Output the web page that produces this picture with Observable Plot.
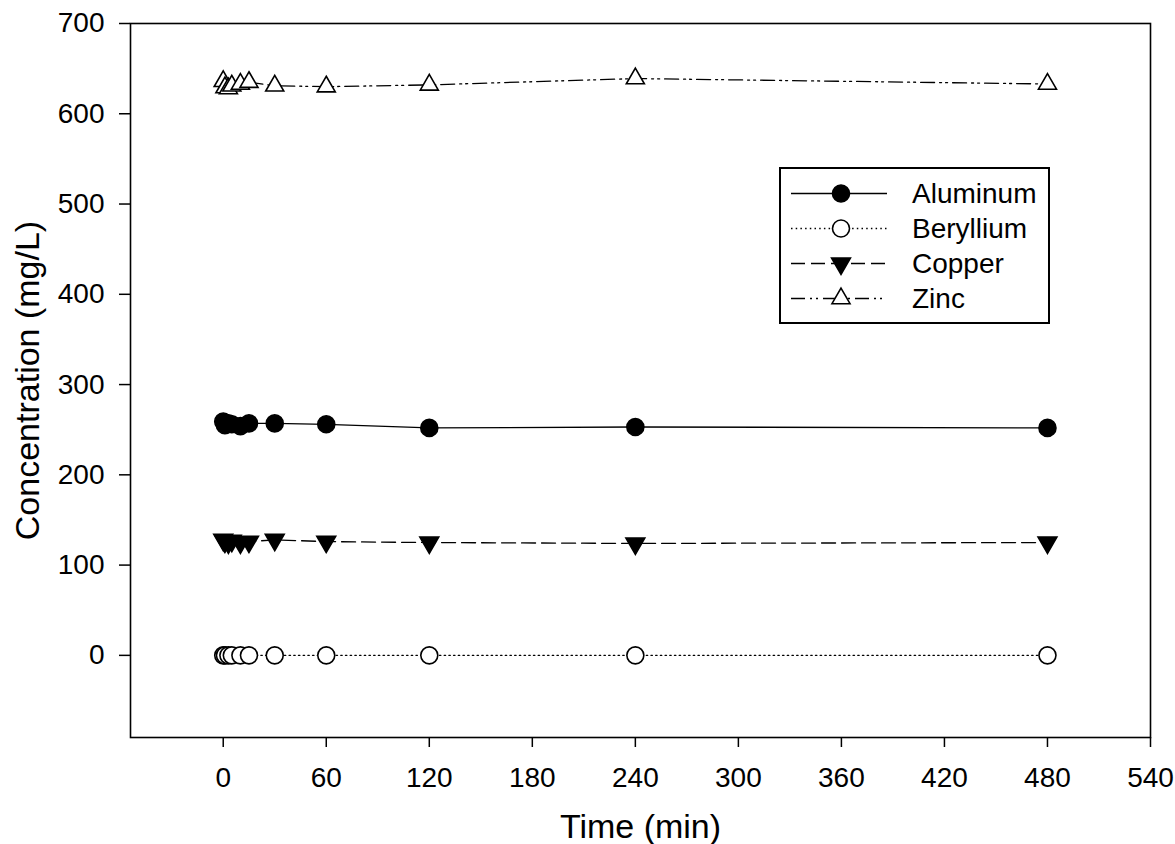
<!DOCTYPE html>
<html>
<head>
<meta charset="utf-8">
<script src="https://cdn.jsdelivr.net/npm/d3@7"></script>
<script src="https://cdn.jsdelivr.net/npm/@observablehq/plot@0.6"></script>
<style>
  html, body { margin: 0; padding: 0; background: #fff; }
  #wrap { position: relative; width: 1175px; height: 844px; font-family: "Liberation Sans", Arial, sans-serif; }
  #legend { position: absolute; left: 779px; top: 167px; width: 271px; height: 157px; box-sizing: border-box;
            border: 2px solid #000; background: #fff; padding-top: 7px; }
  .row { display: flex; align-items: center; height: 35px; }
  .row svg { display: block; flex: none; }
  .row span { font-size: 28px; color: #000; margin-left: 19px; line-height: 35px; }
</style>
</head>
<body>
<div id="wrap"></div>
<script>
// ---- data ----
const times     = [0, 1, 3, 5, 10, 15, 30, 60, 120, 240, 480];
const aluminum  = [259, 255, 257, 256, 254, 257, 257, 256, 252, 253, 252];
const beryllium = [0, 0, 0, 0, 0, 0, 0, 0, 0, 0, 0];
const copper    = [128, 126, 125, 127, 125, 126, 128, 126, 125, 124, 125];
const zinc      = [636, 629, 628, 631, 633, 635, 631, 630, 632, 639, 633];
const seriesNames = ["Aluminum", "Beryllium", "Copper", "Zinc"];
const xTicks = [0, 60, 120, 180, 240, 300, 360, 420, 480, 540];
const yTicks = [0, 100, 200, 300, 400, 500, 600, 700];

const styles = {
  Aluminum:  {dash: null,              symbol: "circle",   fill: "#000", r: 8.5, rotate: 0},
  Beryllium: {dash: "1.5,3.2",         symbol: "circle",   fill: "#fff", r: 8.5, rotate: 0},
  Copper:    {dash: "14,6",            symbol: "triangle", fill: "#000", r: 7,   rotate: 180},
  Zinc:      {dash: "14,5,2,4,2,5",    symbol: "triangle", fill: "#fff", r: 6.7, rotate: 0}
};
const valuesBy = {Aluminum: aluminum, Beryllium: beryllium, Copper: copper, Zinc: zinc};
const rows = seriesNames.map(name => times.map((t, i) => ({time: t, value: valuesBy[name][i], name})));

const seriesMarks = [];
for (const [k, name] of seriesNames.entries()) {
  const s = styles[name];
  const data = rows[k];
  seriesMarks.push(Plot.line(data, {x: "time", y: "value", stroke: "#000", strokeWidth: 1.3,
    strokeDasharray: s.dash ?? undefined}));
  seriesMarks.push(Plot.dot(data, {x: "time", y: "value", symbol: s.symbol, r: s.r, fill: s.fill,
    stroke: "#000", strokeWidth: 1.6, rotate: s.rotate}));
}

const chart = Plot.plot({
  width: 1175,
  height: 844,
  marginLeft: 130,
  marginRight: 25,
  marginTop: 23,
  marginBottom: 107,
  style: {fontFamily: "'Liberation Sans', Arial, sans-serif", fontSize: "28px", background: "#fff", color: "#000"},
  x: {domain: [-54, 540]},
  y: {domain: [-91, 700]},
  marks: [
    Plot.frame({stroke: "#000", strokeWidth: 1.6}),
    Plot.axisX({ticks: xTicks, tickSize: 10, tickPadding: 20, fontSize: 28, label: null, strokeWidth: 1.5}),
    Plot.axisY({ticks: yTicks, tickSize: 11, tickPadding: 15, fontSize: 28, label: null, strokeWidth: 1.5}),
    Plot.text(["Time (min)"], {frameAnchor: "bottom", dy: 100, fontSize: 34, textAnchor: "middle", lineAnchor: "bottom", fill: "#000"}),
    Plot.text(["Concentration (mg/L)"], {frameAnchor: "left", dx: -92, rotate: -90, fontSize: 34, textAnchor: "middle", lineAnchor: "bottom", fill: "#000"}),
    ...seriesMarks
  ]
});
const wrap = document.getElementById("wrap");
wrap.appendChild(chart);

// ---- legend ----
const legend = document.createElement("div");
legend.id = "legend";
for (const name of seriesNames) {
  const s = styles[name];
  const row = document.createElement("div");
  row.className = "row";
  const svg = d3.create("svg").attr("width", 112).attr("height", 35);
  svg.append("line").attr("x1", 10).attr("x2", 106).attr("y1", 17.5).attr("y2", 17.5)
    .attr("stroke", "#000").attr("stroke-width", 1.3).attr("stroke-dasharray", s.dash);
  const sym = s.symbol === "circle" ? d3.symbolCircle : d3.symbolTriangle;
  svg.append("path").attr("d", d3.symbol(sym, Math.PI * s.r * s.r)())
    .attr("transform", `translate(60,17.5) rotate(${s.rotate})`)
    .attr("fill", s.fill).attr("stroke", "#000").attr("stroke-width", 1.6);
  row.appendChild(svg.node());
  const label = document.createElement("span");
  label.textContent = name;
  row.appendChild(label);
  legend.appendChild(row);
}
wrap.appendChild(legend);
</script>
</body>
</html>
